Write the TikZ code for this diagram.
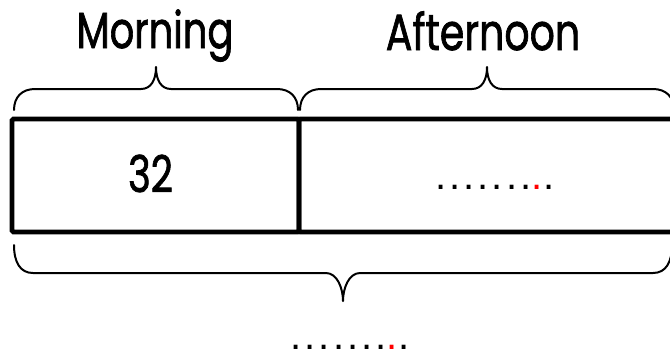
\documentclass[tikz,border=0pt]{standalone}
\usepackage{fontspec}
\setmainfont{Poppins}
\newfontfamily\headfont[FakeBold=1.6]{Poppins}
\newfontfamily\dotfont{Liberation Sans}
\newcommand\nar[1]{\scalebox{0.76}[1]{#1}}
\newcommand\dotrow{\dotfont\fontsize{30}{30}\selectfont
  \makebox[0pt]{.}\hspace{10.6pt}\makebox[0pt]{.}\hspace{10.6pt}\makebox[0pt]{.}\hspace{10.6pt}%
  \makebox[0pt]{.}\hspace{10.6pt}\makebox[0pt]{.}\hspace{10.6pt}\makebox[0pt]{.}\hspace{10.6pt}%
  \makebox[0pt]{.}\hspace{8.4pt}\makebox[0pt]{\textcolor{red}{.}}\hspace{9.2pt}\makebox[0pt]{.}}
\begin{document}
\begin{tikzpicture}[x=0.75pt,y=-0.75pt,
  headtext/.style={font=\headfont\fontsize{38}{40}\selectfont, inner sep=0pt, anchor=base},
  cell/.style={draw, line width=3.4pt, rounded corners=1pt, inner sep=0pt, minimum height=84.75pt},
  bracestyle/.style={line width=1.5pt, line cap=round, line join=round},
  dotstext/.style={inner sep=0pt, anchor=base west}]
\useasboundingbox (0,0) rectangle (670,354);
\clip (0,0) rectangle (670,354);
% cells
\node[cell, minimum width=215.25pt] (mcell) at (155.5,175.5) {};
\node[cell, minimum width=300.75pt] (acell) at (499.5,175.5) {};
% headings
\node[headtext] (morning) at (155,48) {\nar{Morning}};
\node[headtext] (afternoon) at (483,50) {\scalebox{0.78}[1]{Afternoon}};
% cell contents
\node[headtext] (num) at (150.5,192) {\nar{32}};
\node[dotstext] (adots) at (440.7,189.5) {\dotrow};
\node[dotstext] (tdots) at (296,349.5) {\dotrow};
% braces
\draw[bracestyle] (14,110) .. controls (14,97) and (22,89) .. (35,89) -- (141,89)
  .. controls (151,89) and (156,80) .. (156,67)
  .. controls (156,80) and (161,89) .. (171,89) -- (277,89)
  .. controls (290,89) and (298,97) .. (298,110);
\draw[bracestyle] (300,110) .. controls (300,97) and (308,89) .. (321,89) -- (472,89)
  .. controls (482,89) and (487,80) .. (487,67)
  .. controls (487,80) and (492,89) .. (502,89) -- (653,89)
  .. controls (666,89) and (674,97) .. (674,110);
\draw[bracestyle] (14,245) .. controls (14,262) and (20,273) .. (33,273) -- (326,273)
  .. controls (337,273) and (343,288) .. (343,301)
  .. controls (343,288) and (349,273) .. (360,273) -- (653,273)
  .. controls (666,273) and (672,262) .. (672,245);
\end{tikzpicture}
\end{document}
